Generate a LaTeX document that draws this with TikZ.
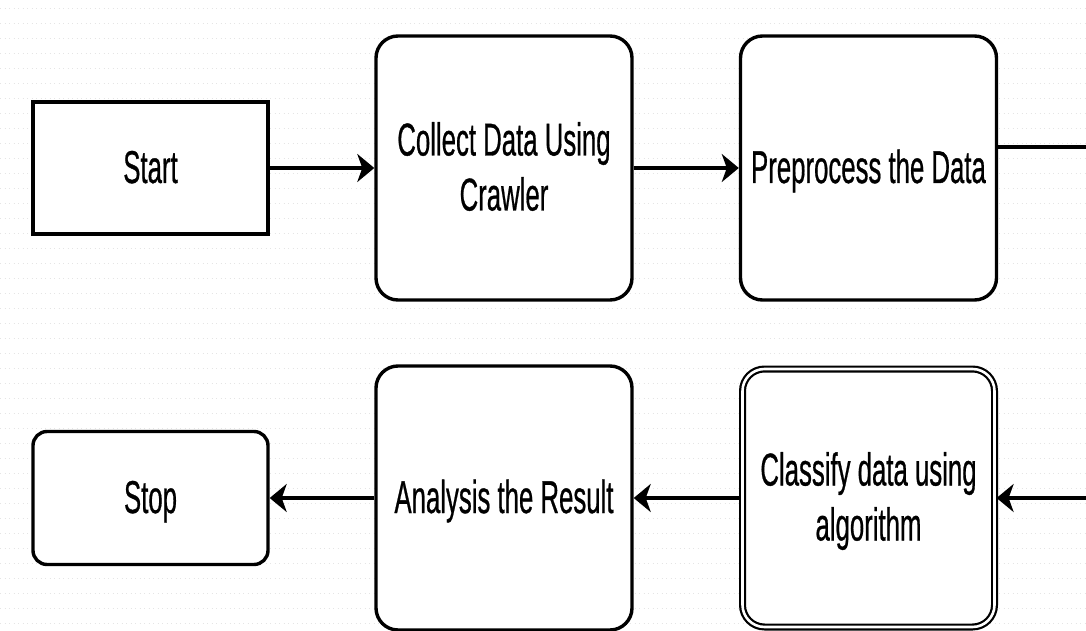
\documentclass[tikz,border=0pt]{standalone}
\usepackage{fontspec}
\setmainfont{Liberation Sans}
\newfontfamily\heavyfont[FakeBold=0.8]{Liberation Sans}
\usetikzlibrary{arrows.meta}
\newcommand{\boxtxt}[1]{\raisebox{-4pt}[\height][\depth]{\scalebox{0.56}[1]{\heavyfont\fontsize{46}{55}\selectfont\begin{tabular}{@{}c@{}}#1\end{tabular}}}}
\tikzset{
  base/.style={draw=black, line width=3.4pt, fill=white, inner sep=0pt, anchor=center},
  sqbox/.style={base, minimum width=235pt, minimum height=132pt},
  bigbox/.style={base, rounded corners=22pt, minimum width=256pt, minimum height=264pt},
  smallbox/.style={base, rounded corners=14pt, minimum width=235pt, minimum height=133pt},
  dblbox/.style={draw=black, line width=2.2pt, double=white, double distance=2.6pt, fill=white, rounded corners=22pt, inner sep=0pt, minimum width=252pt, minimum height=258pt},
  flow/.style={line width=3.2pt, -{Stealth[length=17pt, width=28pt, inset=5pt]}},
  plain/.style={line width=3.2pt}
}
\begin{document}
\begin{tikzpicture}[x=1pt, y=-1pt]
\useasboundingbox (0,0) rectangle (1086,631);
\fill[white] (0,0) rectangle (1086,631);
% faint background grid
\foreach \yy in {8,23,...,631} {
  \draw[black!10, line width=0.8pt, dash pattern=on 1pt off 3.5pt] (0,\yy) -- (1086,\yy);
}
% nodes
\node[sqbox] (start) at (150.5,168) {\boxtxt{Start}};
\node[bigbox] (collect) at (504,168) {\boxtxt{Collect Data Using\\Crawler}};
\node[bigbox] (prep) at (868.5,168) {\boxtxt{Preprocess the Data}};
\node[smallbox] (stop) at (150.5,498) {\boxtxt{Stop}};
\node[bigbox] (analysis) at (504,498) {\boxtxt{Analysis the Result}};
\node[dblbox] (classify) at (868.5,498) {\boxtxt{Classify data using\\algorithm}};
\coordinate (outR) at (1090,147);
\coordinate (inR) at (1090,498);
% connectors
\draw[flow] (start.east) -- (collect.west);
\draw[flow] (collect.east) -- (prep.west);
\draw[plain] (prep.east |- outR) -- (outR);
\draw[flow] (inR) -- ([xshift=1pt]classify.east);
\draw[flow] ([xshift=-1pt]classify.west) -- (analysis.east);
\draw[flow] (analysis.west) -- (stop.east);
\end{tikzpicture}
\end{document}
